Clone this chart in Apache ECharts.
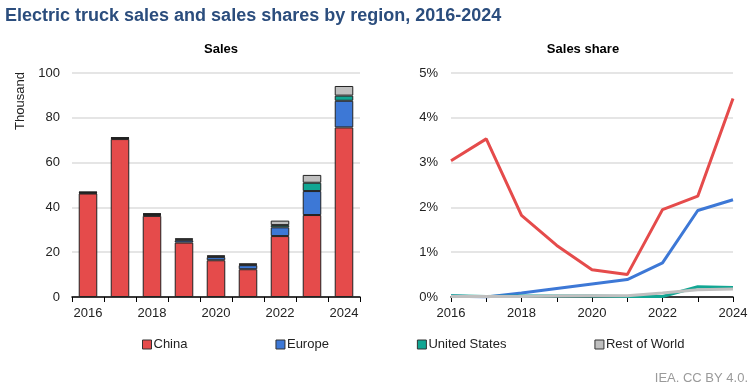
<!DOCTYPE html>
<html>
<head>
<meta charset="utf-8">
<script src="https://cdn.jsdelivr.net/npm/echarts@6/dist/echarts.min.js"></script>
<style>html,body{margin:0;padding:0;background:#fff;}#c{width:754px;height:390px;}</style>
</head>
<body>
<div id="c"></div>
<script>
const years = ['2016','2017','2018','2019','2020','2021','2022','2023','2024'];
// Sales, thousand
const salesChina  = [46.2, 70.5, 36.2, 24.3, 16.4, 12.4, 27.2, 36.6, 75.7];
const salesEurope = [0.3, 0.3, 0.5, 1.0, 1.4, 1.8, 3.9, 10.7, 11.9];
const salesUS     = [0.2, 0.2, 0.3, 0.4, 0.3, 0.3, 1.0, 3.7, 2.3];
const salesRoW    = [0.3, 0.3, 0.4, 0.5, 0.5, 0.5, 2.0, 3.5, 4.3];
// Sales share, %
const shareChina  = [3.04, 3.53, 1.82, 1.15, 0.61, 0.50, 1.95, 2.25, 4.43];
const shareEurope = [0.02, 0.00, 0.09, 0.19, 0.29, 0.39, 0.76, 1.93, 2.17];
const shareUS     = [0.03, 0.01, 0.02, 0.02, 0.02, 0.01, 0.01, 0.23, 0.21];
const shareRoW    = [0.01, 0.01, 0.01, 0.02, 0.03, 0.03, 0.09, 0.16, 0.18];
const salesTicks = [0, 20, 40, 60, 80, 100];
const shareTicks = ['0%', '1%', '2%', '3%', '4%', '5%'];

const names = ['China', 'Europe', 'United States', 'Rest of World'];
const colors = ['#E54B4B', '#3D78D6', '#11A693', '#BFBFBF'];
const sales = [salesChina, salesEurope, salesUS, salesRoW];
const shares = [shareChina, shareEurope, shareUS, shareRoW];

const font = 'Liberation Sans, Arial, sans-serif';
const chart = echarts.init(document.getElementById('c'));

const series = [];
names.forEach((n, i) => {
  series.push({
    name: n, type: 'bar', stack: 'sales', xAxisIndex: 0, yAxisIndex: 0,
    data: sales[i], barWidth: '58%',
    itemStyle: { color: colors[i], borderColor: '#222', borderWidth: 1 },
    emphasis: { disabled: true }
  });
});
names.forEach((n, i) => {
  series.push({
    name: n, type: 'line', xAxisIndex: 1, yAxisIndex: 1,
    data: shares[i], symbol: 'none', smooth: false,
    lineStyle: { color: colors[i], width: 3 },
    itemStyle: { color: colors[i] },
    z: 2 + i
  });
});

chart.setOption({
  animation: false,
  backgroundColor: '#fff',
  title: [
    { text: 'Electric truck sales and sales shares by region, 2016-2024', left: 0, top: 2,
      textStyle: { fontFamily: font, fontSize: 18, fontWeight: 'bold', color: '#2B4D7D' } },
    { text: 'Sales', left: 216, top: 38, textAlign: 'center',
      textStyle: { fontFamily: font, fontSize: 13, fontWeight: 'bold', color: '#000' } },
    { text: 'Sales share', left: 578, top: 38, textAlign: 'center',
      textStyle: { fontFamily: font, fontSize: 13, fontWeight: 'bold', color: '#000' } }
  ],
  legend: {
    left: 137, top: 333, itemGap: 88, itemWidth: 9, itemHeight: 9,
    textStyle: { fontFamily: font, fontSize: 13, color: '#222', padding: [0, 0, 0, -3] },
    data: names.map((n, i) => ({ name: n, icon: 'rect',
      itemStyle: { color: colors[i], borderColor: '#333', borderWidth: 1 } })),
    selectedMode: false
  },
  grid: [
    { left: 72, right: 394, top: 73, bottom: 93 },
    { left: 451, right: 21, top: 73, bottom: 93 }
  ],
  xAxis: [
    { type: 'category', gridIndex: 0, data: years, boundaryGap: true,
      axisLine: { lineStyle: { color: '#000', width: 1.5 } },
      axisTick: { show: true, interval: 0, length: 5, lineStyle: { color: '#000' } },
      axisLabel: { interval: 1, margin: 10, fontFamily: font, fontSize: 13, color: '#222' } },
    { type: 'category', gridIndex: 1, data: years, boundaryGap: false,
      axisLine: { lineStyle: { color: '#000', width: 1.5 } },
      axisTick: { show: true, interval: 0, length: 5, lineStyle: { color: '#000' } },
      axisLabel: { interval: 1, margin: 10, fontFamily: font, fontSize: 13, color: '#222' } }
  ],
  yAxis: [
    { type: 'value', gridIndex: 0, min: salesTicks[0], max: salesTicks[salesTicks.length - 1], interval: 20,
      axisLine: { show: false }, axisTick: { show: false },
      splitLine: { lineStyle: { color: '#DCDCDC', width: 1.5 } },
      axisLabel: { margin: 12, fontFamily: font, fontSize: 13, color: '#222' } },
    { type: 'value', gridIndex: 1, min: 0, max: 5, interval: 1,
      axisLine: { show: false }, axisTick: { show: false },
      splitLine: { lineStyle: { color: '#DCDCDC', width: 1.5 } },
      axisLabel: { margin: 13, fontFamily: font, fontSize: 13, color: '#222',
        formatter: v => shareTicks[Math.round(v)] } }
  ],
  graphic: [
    { type: 'text', x: 20, y: 101, rotation: Math.PI / 2,
      style: { text: 'Thousand', fontFamily: font, fontSize: 13, fill: '#222', align: 'center', verticalAlign: 'middle' } },
    { type: 'text', right: 6, top: 372,
      style: { text: 'IEA. CC BY 4.0.', fontFamily: font, fontSize: 13, fill: '#9A9A9A' } }
  ],
  series: series
});
</script>
</body>
</html>
